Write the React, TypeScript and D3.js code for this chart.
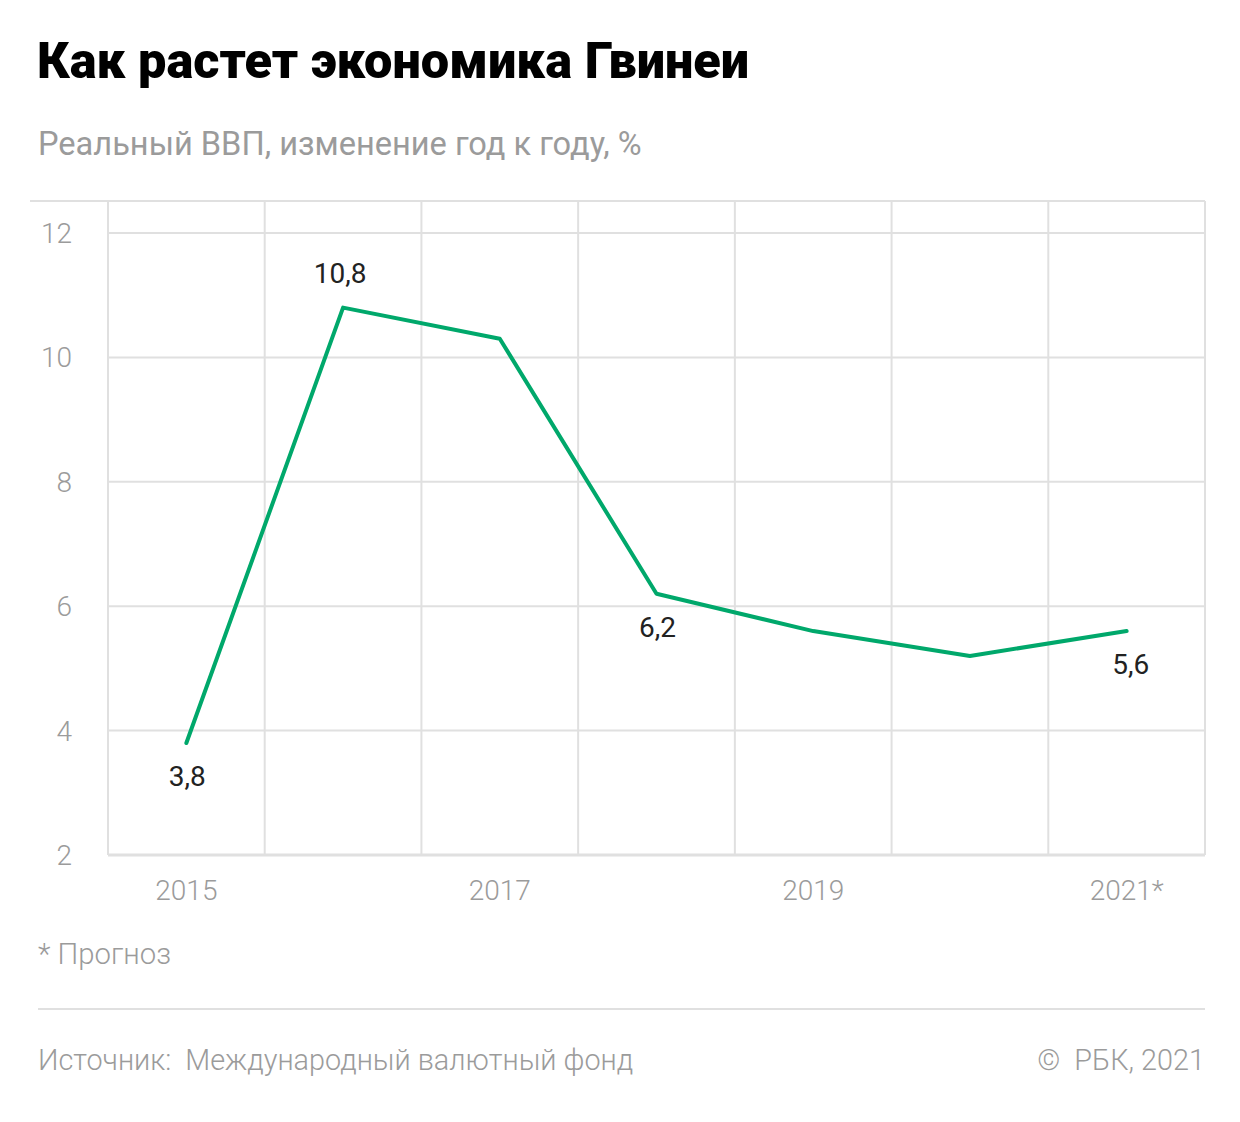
import React, { useEffect, useRef } from 'react';
import * as d3 from 'd3';

const years = ['2015', '2016', '2017', '2018', '2019', '2020', '2021'];
const gdpGrowth = [3.8, 10.8, 10.3, 6.2, 5.6, 5.2, 5.6];
const yTicks = [2, 4, 6, 8, 10, 12];
const xTickYears = ['2015', '2017', '2019', '2021'];
const forecastYears = ['2021'];
const labelAbove = ['2016'];
const labelBelow = ['2015', '2018', '2021'];

const W = 1240;
const H = 1122;
const FONT = 'Roboto, "Noto Sans", sans-serif';
const GREEN = '#00a86b';
const GRID = '#e0e0e0';
const GRAY = '#9b9b9b';

const App = () => {
  const ref = useRef<SVGSVGElement>(null);

  useEffect(() => {
    const svg = d3.select(ref.current);
    svg.selectAll('*').remove();

    const left = 108;
    const right = 1205;
    const top = 201;
    const bottom = 855;

    const x = d3.scaleBand<string>().domain(years).range([left, right]);
    const y = d3.scaleLinear().domain([2, 12]).range([bottom, 233]);
    const cx = (d: string) => (x(d) || 0) + x.bandwidth() / 2;

    // title + subtitle
    svg.append('text')
      .attr('x', 37).attr('y', 78)
      .attr('font-family', FONT).attr('font-weight', 900).attr('font-size', 50.5)
      .attr('fill', '#000')
      .text('Как растет экономика Гвинеи');

    svg.append('text')
      .attr('x', 38).attr('y', 155)
      .attr('font-family', FONT).attr('font-weight', 400).attr('font-size', 32.6)
      .attr('fill', GRAY)
      .text('Реальный ВВП, изменение год к году, %');

    // grid
    const grid = svg.append('g').attr('stroke', GRID).attr('stroke-width', 2);
    grid.append('line').attr('x1', 30).attr('x2', right).attr('y1', top).attr('y2', top);
    grid.selectAll('.h').data(yTicks.filter((t) => t > 2)).enter().append('line')
      .attr('x1', left).attr('x2', right)
      .attr('y1', (d) => y(d)).attr('y2', (d) => y(d));
    const vx = years.map((d) => x(d) || 0).concat([right]);
    grid.selectAll('.v').data(vx).enter().append('line')
      .attr('x1', (d) => d).attr('x2', (d) => d)
      .attr('y1', top).attr('y2', bottom);
    grid.append('line').attr('x1', left).attr('x2', right).attr('y1', bottom).attr('y2', bottom)
      .attr('stroke-width', 3);

    // y tick labels
    svg.append('g').selectAll('text').data(yTicks).enter().append('text')
      .attr('x', 72).attr('y', (d) => y(d) + 10)
      .attr('text-anchor', 'end')
      .attr('font-family', FONT).attr('font-weight', 300).attr('font-size', 28)
      .attr('fill', GRAY)
      .text((d) => String(d));

    // x tick labels
    svg.append('g').selectAll('text').data(xTickYears).enter().append('text')
      .attr('x', (d) => cx(d)).attr('y', 900)
      .attr('text-anchor', 'middle')
      .attr('font-family', FONT).attr('font-weight', 300).attr('font-size', 28)
      .attr('fill', GRAY)
      .text((d) => (forecastYears.includes(d) ? d + '*' : d));

    // line
    const line = d3.line<number>()
      .x((_, i) => cx(years[i]))
      .y((d) => y(d));
    svg.append('path')
      .datum(gdpGrowth)
      .attr('d', line)
      .attr('fill', 'none')
      .attr('stroke', GREEN)
      .attr('stroke-width', 4)
      .attr('stroke-linejoin', 'round')
      .attr('stroke-linecap', 'round');

    // value labels
    const fmt = (v: number) => v.toFixed(1).replace('.', ',');
    const labelled = years.filter((d) => labelAbove.includes(d) || labelBelow.includes(d));
    svg.append('g').selectAll('text').data(labelled).enter().append('text')
      .attr('x', (d) => cx(d) + (d === '2016' ? -3 : d === '2021' ? 4 : 1))
      .attr('y', (d) => {
        const v = gdpGrowth[years.indexOf(d)];
        return labelAbove.includes(d) ? y(v) - 25 : y(v) + 43;
      })
      .attr('text-anchor', 'middle')
      .attr('font-family', FONT).attr('font-weight', 400).attr('font-size', 28)
      .attr('fill', '#222')
      .text((d) => fmt(gdpGrowth[years.indexOf(d)]));

    // footnote
    svg.append('text')
      .attr('x', 38).attr('y', 964)
      .attr('font-family', FONT).attr('font-weight', 300).attr('font-size', 29.3)
      .attr('fill', GRAY)
      .text('* Прогноз');

    svg.append('line')
      .attr('x1', 38).attr('x2', right).attr('y1', 1009).attr('y2', 1009)
      .attr('stroke', GRID).attr('stroke-width', 2);

    svg.append('text')
      .attr('x', 38).attr('y', 1070)
      .attr('font-family', FONT).attr('font-weight', 300).attr('font-size', 28.8)
      .attr('fill', GRAY)
      .style('white-space', 'pre')
      .text('Источник:  Международный валютный фонд');

    svg.append('text')
      .attr('x', right).attr('y', 1070)
      .attr('text-anchor', 'end')
      .attr('font-family', FONT).attr('font-weight', 300).attr('font-size', 28.8)
      .attr('fill', GRAY)
      .style('white-space', 'pre')
      .text('©  РБК, 2021');
  }, []);

  return (
    <svg
      ref={ref}
      width={W}
      height={H}
      style={{ position: 'absolute', left: 0, top: 0, background: '#fff' }}
    />
  );
};

export default App;
